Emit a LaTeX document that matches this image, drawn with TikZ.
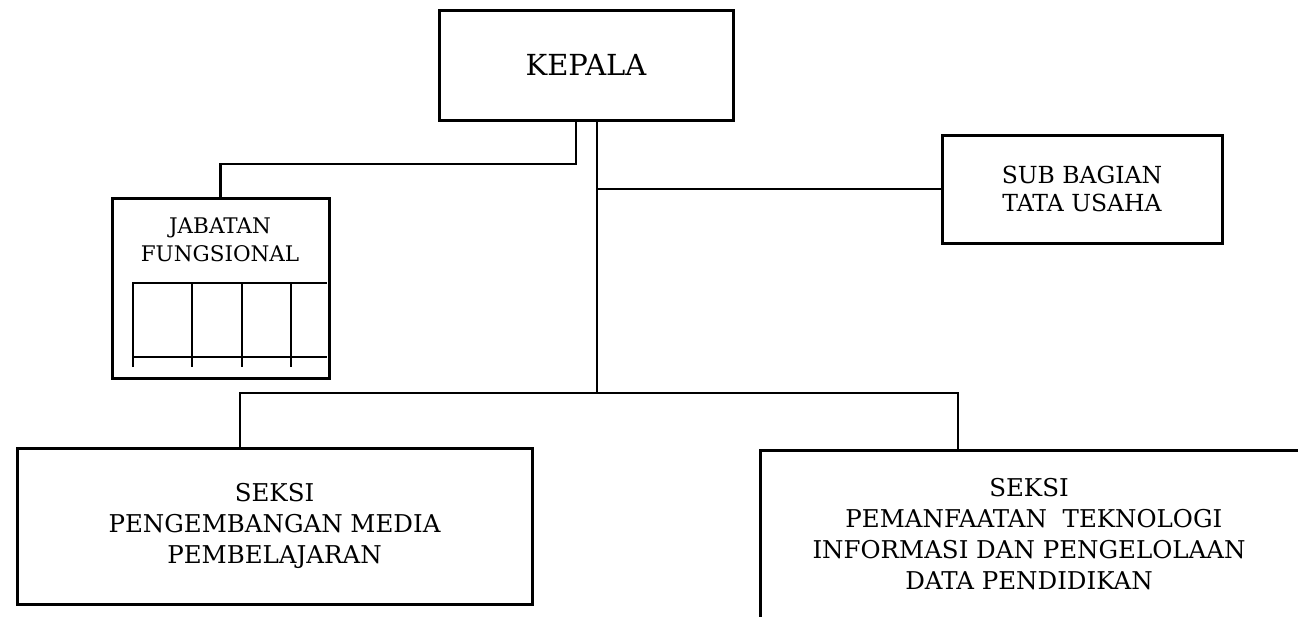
\documentclass[tikz,border=0pt]{standalone}
\usepackage{fontspec}
\setmainfont{DejaVu Serif}
\begin{document}
\begin{tikzpicture}[x=1pt,y=-1pt,
  box/.style={draw, line width=3pt, rectangle, inner sep=0pt, align=center},
  conn/.style={line width=2.8pt},
  gridline/.style={line width=2.4pt}]
\useasboundingbox (0,0) rectangle (1298,616);
\clip (0,0) rectangle (1298,616);
% boxes
\node[box, minimum width=294pt, minimum height=110pt, font=\fontsize{29}{34}\selectfont] (kepala) at (586,65) {KEPALA};
\node[box, minimum width=280pt, minimum height=108pt, font=\fontsize{23.5}{28}\selectfont] (sub) at (1082,189) {SUB BAGIAN\\TATA USAHA};
\node[box, minimum width=217pt, minimum height=180pt] (jf) at (220.5,288) {};
\node[align=center, inner sep=0pt, font=\fontsize{21.5}{28}\selectfont] (jft) at (220,240) {JABATAN\\FUNGSIONAL};
\node[box, minimum width=515pt, minimum height=156pt, font=\fontsize{24.5}{31}\selectfont] (s1) at (274.5,526) {SEKSI\\PENGEMBANGAN MEDIA\\PEMBELAJARAN};
\node[box, minimum width=580pt, minimum height=240pt] (s2) at (1050,570) {};
\node[align=center, inner sep=0pt, font=\fontsize{24.5}{31}\selectfont] (s2t) at (1029,534) {SEKSI\\\hspace*{0.4em}PEMANFAATAN\ \ TEKNOLOGI\\INFORMASI DAN PENGELOLAAN\\DATA PENDIDIKAN};
% grid inside jabatan fungsional
\coordinate (g1) at (133,283);
\coordinate (g2) at (327,283);
\coordinate (g3) at (133,357);
\coordinate (g4) at (327,357);
\draw[gridline] (133,367) -- (g1) -- (g2);
\draw[gridline] (g3) -- (g4);
\draw[gridline] (192,283) -- (192,367);
\draw[gridline] (242,283) -- (242,367);
\draw[gridline] (291,283) -- (291,367);
% connectors
\coordinate (kl) at (576,164);
\draw[conn] (kepala.south -| kl) -- (kl) -| (jf.north);
\coordinate (tr) at (597,393);
\draw[conn] (kepala.south -| tr) -- (tr);
\coordinate (br) at (597,189);
\draw[conn] (br) -- (sub.west);
\coordinate (bl) at (240,393);
\coordinate (brr) at (958,393);
\draw[conn] (s1.north -| bl) -- (bl) -- (brr) -- (s2.north -| brr);
\end{tikzpicture}
\end{document}
